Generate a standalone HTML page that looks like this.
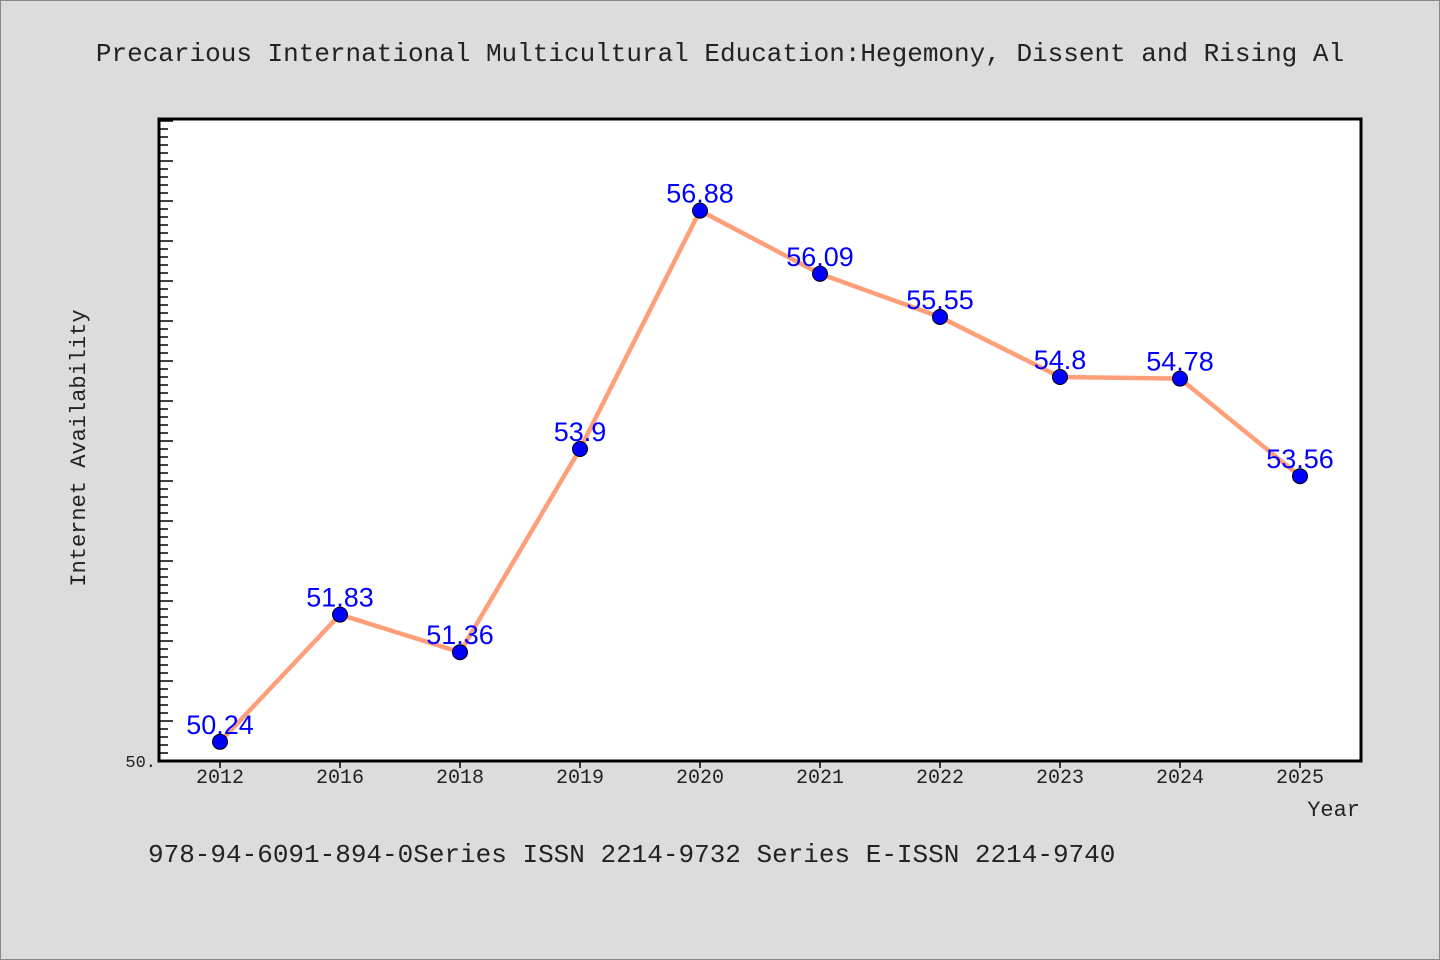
<!DOCTYPE html>
<html><head><meta charset="utf-8"><style>
body{margin:0;background:#dcdcdc;}
svg{display:block;font-family:"Liberation Mono","DejaVu Sans Mono",monospace;}
</style></head><body>
<svg id="c" width="1440" height="960">
<rect x="0.5" y="0.5" width="1439" height="959" fill="#dcdcdc" stroke="#888"/>
<text x="720" y="61" font-size="26" text-anchor="middle" fill="#222">Precarious International Multicultural Education:Hegemony, Dissent and Rising Al</text>
<rect x="159" y="119" width="1202" height="642" fill="#fff" stroke="#000" stroke-width="3"/>
<g id="ticks"></g>
<text x="85" y="448" font-size="22" text-anchor="middle" fill="#222" transform="rotate(-90 85 448)">Internet Availability</text>
<text x="1360" y="816" font-size="22" text-anchor="end" fill="#222">Year</text>
<text x="148" y="862" font-size="26" fill="#222">978-94-6091-894-0Series ISSN 2214-9732 Series E-ISSN 2214-9740</text>
<g id="series"></g>
</svg>
<script>
const categories=["2012","2016","2018","2019","2020","2021","2022","2023","2024","2025"];
const values=[50.24,51.83,51.36,53.9,56.88,56.09,55.55,54.8,54.78,53.56];
const labels=["50.24","51.83","51.36","53.9","56.88","56.09","55.55","54.8","54.78","53.56"];
const yMin=50, yMax=58.025;
const NS="http://www.w3.org/2000/svg";
const X0=159,X1=1361,Y0=761,Y1=119;
function xs(i){return 220+i*120;}
function ys(v){return Y0-(v-yMin)/(yMax-yMin)*(Y0-Y1);}
function mk(t,a,p){const e=document.createElementNS(NS,t);for(const k in a)e.setAttribute(k,a[k]);p.appendChild(e);return e;}
const tg=document.getElementById('ticks');
for(let k=1;k*0.1+yMin<yMax;k++){
  const v=yMin+k*0.1,y=ys(v),maj=k%5===0;
  const t=mk('line',{x1:160,x2:160+(maj?13:8),y1:y,y2:y,stroke:'#000','stroke-width':1.5},tg);
  
  
}
const yl=mk('text',{x:156,y:767,'font-size':17,'text-anchor':'end',fill:'#222'},tg);
yl.textContent="50.";


categories.forEach((c,i)=>{
  const t=mk('line',{x1:xs(i),x2:xs(i),y1:762,y2:768,stroke:'#000','stroke-width':1.5},tg);
  
  
  const l=mk('text',{x:xs(i),y:783,'font-size':20,'text-anchor':'middle',fill:'#222'},tg);
  l.textContent=c;
  
  
});
const sg=document.getElementById('series');
const line=mk('polyline',{points:values.map((v,i)=>xs(i)+','+ys(v)).join(' '),fill:'none',stroke:'#ff9f7a','stroke-width':4.5},sg);


values.forEach((v,i)=>{
  const p=mk('circle',{cx:xs(i),cy:ys(v),r:7.5,fill:'#0000ff',stroke:'#000','stroke-width':1},sg);
  
  
  const l=mk('text',{x:xs(i),y:ys(v)-8,'font-size':27,'text-anchor':'middle',fill:'#0000ff','font-family':'"Liberation Sans",sans-serif'},sg);
  l.textContent=labels[i];
  
  
});
</script>
</body></html>
